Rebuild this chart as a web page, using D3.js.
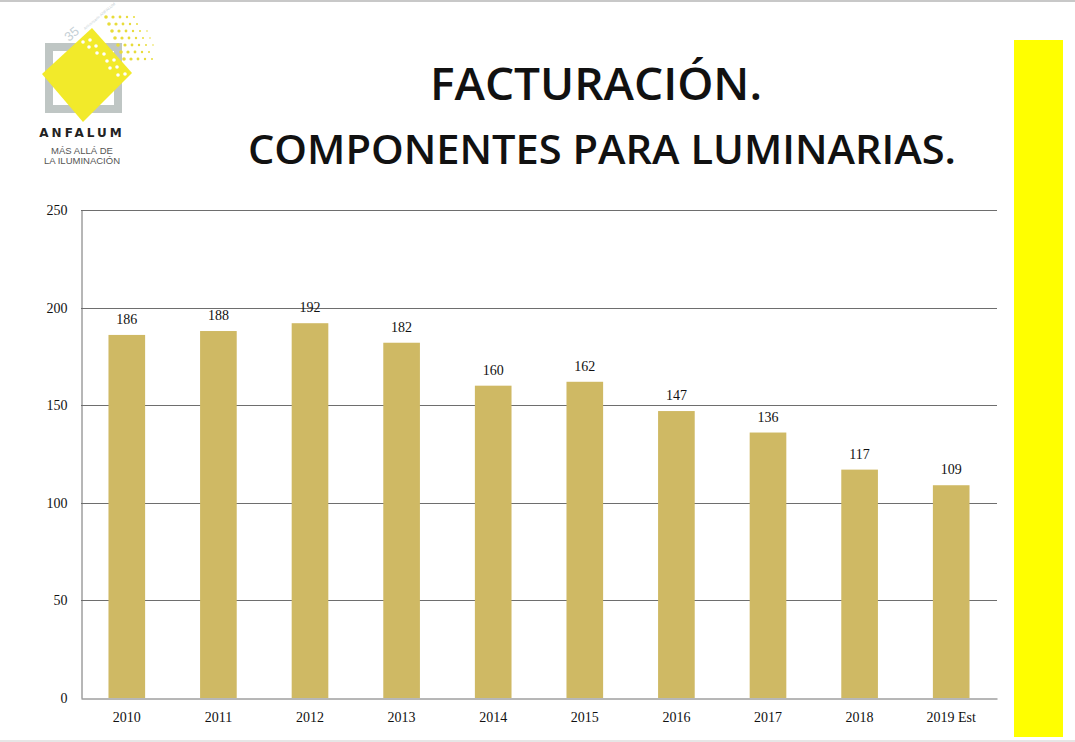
<!DOCTYPE html>
<html><head><meta charset="utf-8">
<script src="https://cdn.jsdelivr.net/npm/d3@7"></script>
<style>body{margin:0;background:#fff;}svg{display:block;}</style>
</head><body>
<script>
const categories = ["2010","2011","2012","2013","2014","2015","2016","2017","2018","2019 Est"];
const values = [186,188,192,182,160,162,147,136,117,109];
const yTicks = [0,50,100,150,200,250];
const titleLines = ["FACTURACIÓN.","COMPONENTES PARA LUMINARIAS."];

(function(){
const W=1075,H=742;
const svg=d3.select("body").append("svg").attr("width",W).attr("height",H);
svg.append("rect").attr("width",W).attr("height",H).attr("fill","#fff");
svg.append("rect").attr("x",0).attr("y",0).attr("width",W).attr("height",2).attr("fill","#c8c8c8");
svg.append("rect").attr("x",0).attr("y",740).attr("width",W).attr("height",2).attr("fill","#e6e6e6");
svg.append("rect").attr("x",1014).attr("y",40).attr("width",49).attr("height",697).attr("fill","#ffff00");

// title
const tf="'Open Sans', Lato, sans-serif";
svg.append("text").attr("x",596).attr("y",100).attr("text-anchor","middle")
  .attr("font-family",tf).attr("font-weight",600).attr("font-size",45).attr("fill","#111")
  .attr("textLength",332).attr("lengthAdjust","spacingAndGlyphs").text(titleLines[0]);
svg.append("text").attr("x",602).attr("y",164).attr("text-anchor","middle")
  .attr("font-family",tf).attr("font-weight",600).attr("font-size",39).attr("fill","#111")
  .attr("textLength",708).attr("lengthAdjust","spacingAndGlyphs").text(titleLines[1]);

// logo
const logo=svg.append("g");
logo.append("rect").attr("x",49).attr("y",47).attr("width",69).attr("height",62)
  .attr("fill","none").attr("stroke","#bfc6c4").attr("stroke-width",8);
logo.append("path").attr("d","M92,28 L132,73 L83,122 L42,74 Z").attr("fill","#f2ea2a");
const dots=[];
for(let r=0;r<7;r++){for(let c=0;c<6-Math.floor(Math.abs(r-3)/2);c++){
  const dx=106+c*7+r*3, dy=17+r*7;
  dots.push([dx,dy, 1.8-0.2*c]);
}}
logo.selectAll("circle.d").data(dots).enter().append("circle")
  .attr("cx",d=>d[0]).attr("cy",d=>d[1]).attr("r",d=>Math.max(0.8,d[2])).attr("fill","#e8dc3a");
const holes=[[83,42],[90,40],[89,47],[96,46],[97,53],[104,54],[107,61],[114,60],[110,68],[117,67],[118,75],[125,74]];
logo.selectAll("circle.h").data(holes).enter().append("circle")
  .attr("cx",d=>d[0]).attr("cy",d=>d[1]).attr("r",1.8).attr("fill","#fff");
logo.append("text").attr("x",69).attr("y",42).attr("transform","rotate(-40,69,42)")
  .attr("font-family","'Liberation Sans', sans-serif").attr("font-size",13).attr("fill","#c5d0d6").text("35");
logo.append("text").attr("x",85).attr("y",30).attr("transform","rotate(-40,85,30)")
  .attr("font-family","'Liberation Sans', sans-serif").attr("font-size",4).attr("fill","#c5d0d6").text("Aniversario ANFALUM");
logo.append("text").attr("x",82).attr("y",137).attr("text-anchor","middle")
  .attr("font-family","'DejaVu Sans', sans-serif").attr("font-weight","bold").attr("font-size",12)
  .attr("letter-spacing",3).attr("fill","#222").text("ANFALUM");
logo.append("text").attr("x",82).attr("y",154).attr("text-anchor","middle")
  .attr("font-family","'Liberation Sans', sans-serif").attr("font-size",9.5).attr("fill","#555").text("MÁS ALLÁ DE");
logo.append("text").attr("x",82).attr("y",164).attr("text-anchor","middle")
  .attr("font-family","'Liberation Sans', sans-serif").attr("font-size",9.5).attr("fill","#555").text("LA ILUMINACIÓN");

// chart
const pL=81,pR=997,pT=210,pB=698;
const x=d3.scaleBand().domain(categories).range([pL,pR]).paddingInner(0.6).paddingOuter(0.3);
const y=d3.scaleLinear().domain([0,250]).range([pB,pT]);
const serif="'Liberation Serif', 'DejaVu Serif', serif";

const g=svg.append("g");
g.selectAll("line.grid").data(yTicks.filter(t=>t>0)).enter().append("line")
  .attr("x1",pL).attr("x2",pR).attr("y1",d=>Math.round(y(d))+0.5).attr("y2",d=>Math.round(y(d))+0.5)
  .attr("stroke","#6e6e6e").attr("stroke-width",1);

g.selectAll("rect.bar").data(values).enter().append("rect")
  .attr("x",(d,i)=>x(categories[i])).attr("width",x.bandwidth())
  .attr("y",d=>y(d)).attr("height",d=>pB-y(d)).attr("fill","#cfb964");

g.selectAll("text.lbl").data(values).enter().append("text")
  .attr("x",(d,i)=>x(categories[i])+x.bandwidth()/2).attr("y",d=>y(d)-11)
  .attr("text-anchor","middle").attr("font-family",serif).attr("font-size",14).attr("fill","#111").text(d=>d);

const yAxis=d3.axisLeft(y).tickValues(yTicks).tickSize(0).tickSizeOuter(0).tickPadding(14);
const ya=svg.append("g").attr("transform",`translate(${pL+0.5},0)`).call(yAxis);
ya.select(".domain").attr("stroke","#6e6e6e");
ya.selectAll("text").attr("font-family",serif).attr("font-size",14).attr("fill","#111");

const xAxis=d3.axisBottom(x).tickSize(0).tickSizeOuter(0).tickPadding(14);
const xa=svg.append("g").attr("transform",`translate(0,${pB+0.5})`).call(xAxis);
xa.select(".domain").attr("stroke","#6e6e6e");
xa.selectAll("text").attr("font-family",serif).attr("font-size",14).attr("fill","#111");
})();
</script>
</body></html>
